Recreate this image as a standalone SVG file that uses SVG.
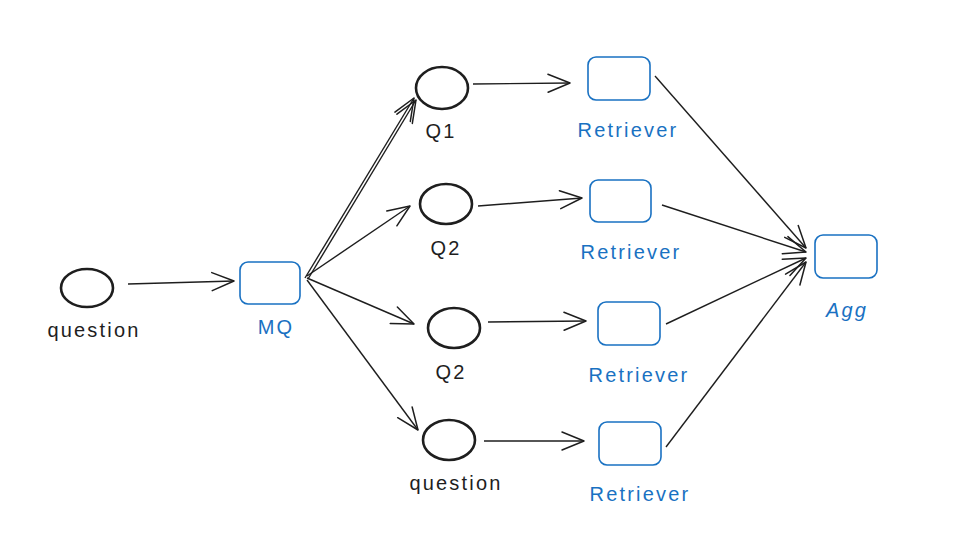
<svg xmlns="http://www.w3.org/2000/svg" width="955" height="546" viewBox="0 0 955 546">
<defs>
<style>
.el{fill:none;stroke:#1e1e1e;stroke-width:2.6}
.bx{fill:none;stroke:#1971c2;stroke-width:1.6}
.lk{fill:none;stroke:#1e1e1e;stroke-width:1.4;marker-end:url(#ah)}
.t{font-family:"Liberation Sans",Arial,sans-serif;font-size:20px;text-anchor:middle;letter-spacing:2.2px}
.tk{fill:#1e1e1e}
.tb{fill:#1971c2}
</style>
<marker id="ah" viewBox="0 0 24 24" refX="23" refY="12" markerWidth="24" markerHeight="24" markerUnits="userSpaceOnUse" orient="auto">
<path d="M1,3 L23,12 L1,21" fill="none" stroke="#1e1e1e" stroke-width="1.5" stroke-linecap="round" stroke-linejoin="round"/>
</marker>
</defs>
<rect width="955" height="546" fill="#ffffff"/>
<g id="connectors">
<path class="lk" d="M128,284 L234,281"/>
<path class="lk" d="M305,278 L414,98"/>
<path class="lk" d="M308,279 L416,100" stroke-width="1"/>
<path class="lk" d="M307,276 L410,206"/>
<path class="lk" d="M307,278 L414,324"/>
<path class="lk" d="M307,280 L418,430"/>
<path class="lk" d="M473,84 L570,83"/>
<path class="lk" d="M478,206 L582,198"/>
<path class="lk" d="M488,322 L586,321"/>
<path class="lk" d="M484,441 L584,441"/>
<path class="lk" d="M655,76 L806,248"/>
<path class="lk" d="M662,205 L806,252"/>
<path class="lk" d="M666,324 L806,258"/>
<path class="lk" d="M666,447 L806,262"/>
</g>
<g id="n-question"><ellipse class="el" cx="87" cy="288" rx="26" ry="19"/><text class="t tk" x="94" y="337">question</text></g>
<g id="n-mq"><rect class="bx" x="240" y="262" width="60" height="42" rx="8"/><text class="t tb" x="276" y="334">MQ</text></g>
<g id="n-q1"><ellipse class="el" cx="442" cy="88" rx="26" ry="21"/><text class="t tk" x="441" y="138">Q1</text></g>
<g id="n-q2a"><ellipse class="el" cx="446" cy="204" rx="26" ry="20"/><text class="t tk" x="446" y="255">Q2</text></g>
<g id="n-q2b"><ellipse class="el" cx="454" cy="328" rx="26" ry="20"/><text class="t tk" x="451" y="379">Q2</text></g>
<g id="n-question2"><ellipse class="el" cx="449" cy="440" rx="26" ry="20"/><text class="t tk" x="456" y="490">question</text></g>
<g id="n-r1"><rect class="bx" x="588" y="57" width="62" height="43" rx="8"/><text class="t tb" x="628" y="137">Retriever</text></g>
<g id="n-r2"><rect class="bx" x="590" y="180" width="61" height="42" rx="8"/><text class="t tb" x="631" y="259">Retriever</text></g>
<g id="n-r3"><rect class="bx" x="598" y="302" width="62" height="43" rx="8"/><text class="t tb" x="639" y="382">Retriever</text></g>
<g id="n-r4"><rect class="bx" x="599" y="422" width="62" height="43" rx="8"/><text class="t tb" x="640" y="501">Retriever</text></g>
<g id="n-agg"><rect class="bx" x="815" y="235" width="62" height="43" rx="8"/><text class="t tb" x="847" y="317" font-style="italic">Agg</text></g>
</svg>
